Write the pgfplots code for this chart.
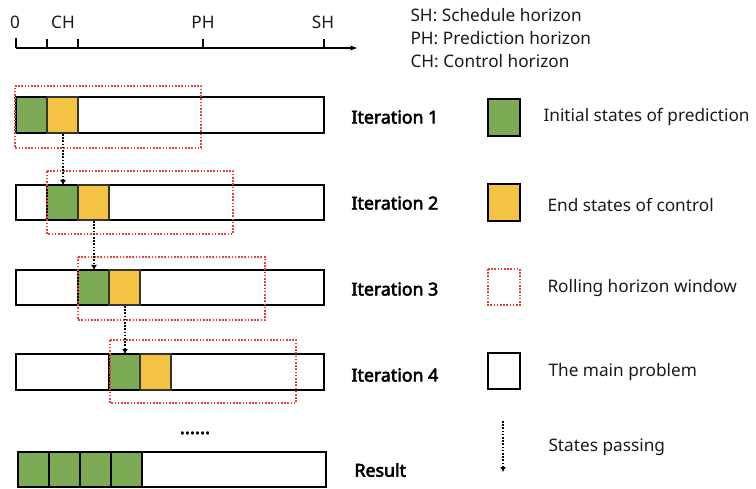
\documentclass[border=0pt]{standalone}
\usepackage{pgfplots}
\pgfplotsset{compat=1.18}
\usepackage{fontspec}
\setmainfont{Noto Sans}
\newfontfamily\fakebold[FakeBold=3]{Noto Sans}
\usetikzlibrary{arrows.meta}
\definecolor{gr}{HTML}{7DAB55}
\definecolor{ye}{HTML}{F5C343}
\definecolor{rd}{HTML}{EE3B33}
\definecolor{tx}{HTML}{1A1A1A}
\tikzset{itl/.style={anchor=west, font=\fakebold\fontsize{17.8}{20}\selectfont}}
\begin{document}
\begin{tikzpicture}[font=\fontsize{17.3}{20}\selectfont\color{tx}]
\begin{axis}[x=1bp, y=1bp, y dir=reverse, xmin=0, xmax=756, ymin=0, ymax=489,
  hide axis, clip=false, no markers,
  mainbox/.style={draw=black, line width=2bp, fill=white},
  grbox/.style={draw=black, line width=1.6bp, fill=gr},
  yebox/.style={draw=black!80, line width=1.2bp, fill=ye},
  redbox/.style={draw=rd, line width=1.8bp, dash pattern=on 1.6bp off 1.6bp},
  pass/.style={black, line width=1.6bp, dash pattern=on 1.6bp off 1.6bp, -{Latex[length=5bp,width=6bp]}}]
\path (axis cs:0,0) rectangle (axis cs:756,489);
% timeline
\addplot[black, line width=1.5bp, -{Stealth[length=7bp,width=5bp]}] coordinates {(16,48) (357,48)};
\addplot[black, line width=1.5bp] coordinates {(16,38) (16,48)};
\addplot[black, line width=1.5bp] coordinates {(47,39) (47,48)};
\addplot[black, line width=1.5bp] coordinates {(78,39) (78,48)};
\addplot[black, line width=1.5bp] coordinates {(203,39) (203,48)};
\addplot[black, line width=1.5bp] coordinates {(324,39) (324,48)};
\node at (axis cs:15,22) {0};
\node at (axis cs:63,22) {CH};
\node at (axis cs:203,22) {PH};
\node at (axis cs:323,22) {SH};
\node[anchor=west] at (axis cs:407,15) {SH: Schedule horizon};
\node[anchor=west] at (axis cs:407,38) {PH: Prediction horizon};
\node[anchor=west] at (axis cs:407,61) {CH: Control horizon};
% iteration 1
\addplot[mainbox] coordinates {(16,97) (324,97) (324,133) (16,133)} -- cycle;
\addplot[grbox] coordinates {(16,97) (47,97) (47,133) (16,133)} -- cycle;
\addplot[yebox] coordinates {(47,97) (78,97) (78,133) (47,133)} -- cycle;
\addplot[redbox] coordinates {(15,86) (201,86) (201,148) (15,148)} -- cycle;
% iteration 2
\addplot[mainbox] coordinates {(16,185) (324,185) (324,220) (16,220)} -- cycle;
\addplot[grbox] coordinates {(47,185) (78,185) (78,220) (47,220)} -- cycle;
\addplot[yebox] coordinates {(78,185) (109,185) (109,220) (78,220)} -- cycle;
\addplot[redbox] coordinates {(47,171) (233,171) (233,234) (47,234)} -- cycle;
% iteration 3
\addplot[mainbox] coordinates {(16,270) (324,270) (324,305) (16,305)} -- cycle;
\addplot[grbox] coordinates {(78,270) (109,270) (109,305) (78,305)} -- cycle;
\addplot[yebox] coordinates {(109,270) (140,270) (140,305) (109,305)} -- cycle;
\addplot[redbox] coordinates {(78,257) (265,257) (265,320) (78,320)} -- cycle;
% iteration 4
\addplot[mainbox] coordinates {(16,354) (324,354) (324,390) (16,390)} -- cycle;
\addplot[grbox] coordinates {(109,354) (140,354) (140,390) (109,390)} -- cycle;
\addplot[yebox] coordinates {(140,354) (171,354) (171,390) (140,390)} -- cycle;
\addplot[redbox] coordinates {(110,340) (296,340) (296,403) (110,403)} -- cycle;
% arrows
\addplot[pass] coordinates {(63,134) (63,185)};
\addplot[pass] coordinates {(94,221) (94,270)};
\addplot[pass] coordinates {(125,306) (125,354)};
% dots
\node[font=\fakebold\fontsize{19}{20}\selectfont, inner sep=0pt, anchor=base] at (axis cs:195,434) {......};
% result
\addplot[mainbox] coordinates {(18,452) (326,452) (326,487) (18,487)} -- cycle;
\addplot[grbox] coordinates {(18,452) (49,452) (49,487) (18,487)} -- cycle;
\addplot[grbox] coordinates {(49,452) (80,452) (80,487) (49,487)} -- cycle;
\addplot[grbox] coordinates {(80,452) (111,452) (111,487) (80,487)} -- cycle;
\addplot[grbox] coordinates {(111,452) (142,452) (142,487) (111,487)} -- cycle;
% iteration labels
\node[itl] at (axis cs:348,117) {Iteration 1};
\node[itl] at (axis cs:348,203) {Iteration 2};
\node[itl] at (axis cs:348,289) {Iteration 3};
\node[itl] at (axis cs:348,375) {Iteration 4};
\node[itl] at (axis cs:351,470) {Result};
% legend
\addplot[grbox] coordinates {(488,99) (520,99) (520,136) (488,136)} -- cycle;
\node[anchor=west] at (axis cs:540,117) {Initial states of prediction};
\addplot[yebox, draw=black, line width=1.5bp] coordinates {(488,184) (520,184) (520,221) (488,221)} -- cycle;
\node[anchor=west] at (axis cs:544,205) {End states of control};
\addplot[redbox] coordinates {(488,269) (520,269) (520,305) (488,305)} -- cycle;
\node[anchor=west] at (axis cs:544,288) {Rolling horizon window};
\addplot[mainbox, line width=1.6bp] coordinates {(488,353) (520,353) (520,389) (488,389)} -- cycle;
\node[anchor=west] at (axis cs:545,372) {The main problem};
\addplot[pass, line width=1.3bp] coordinates {(503,421) (503,472)};
\node[anchor=west] at (axis cs:545,447) {States passing};
\end{axis}
\end{tikzpicture}
\end{document}
